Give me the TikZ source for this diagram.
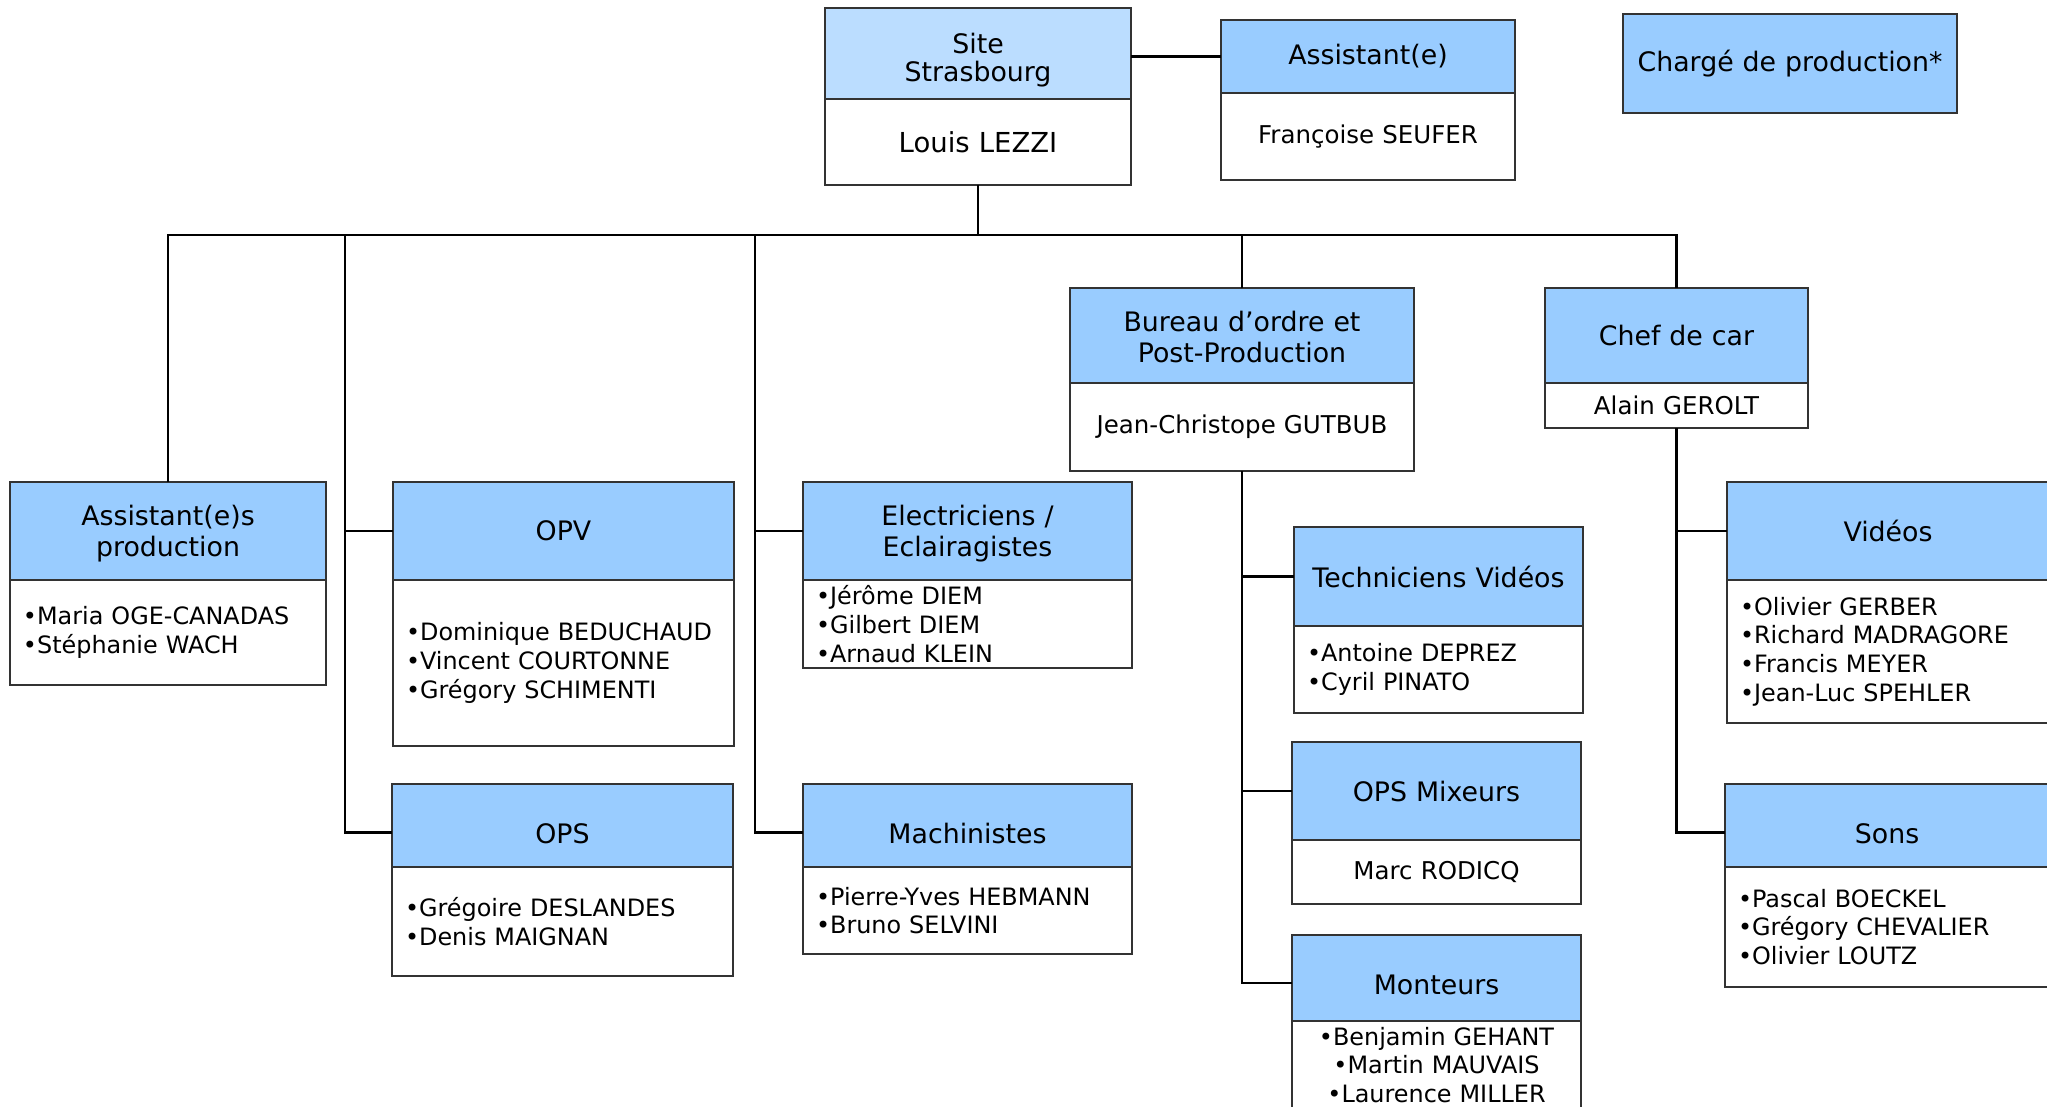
\documentclass[tikz,border=0pt]{standalone}
\usepackage{fontspec}
\setmainfont{DejaVu Sans}
\usepackage{xcolor}
\usepackage{tikz}
\usetikzlibrary{positioning}

\definecolor{headblue}{HTML}{99CCFF}
\definecolor{siteblue}{HTML}{BBDDFF}
\definecolor{boxline}{HTML}{333333}
\newcommand{\headsize}{\fontsize{26.8}{31}\selectfont}
\newcommand{\namesize}{\fontsize{24.5}{28.7}\selectfont}
\newcommand{\listsize}{\fontsize{23.9}{28.7}\selectfont}

\begin{document}
\begin{tikzpicture}[x=1pt, y=-1pt,
  headbox/.style={draw=boxline, line width=1.6pt, fill=headblue, inner xsep=13pt, inner ysep=0pt, outer sep=0pt, align=center, font=\headsize},
  namebox/.style={draw=boxline, line width=1.6pt, fill=white, inner xsep=13pt, inner ysep=0pt, outer sep=0pt, align=left, font=\listsize},
  onename/.style={align=center, font=\namesize},
  link/.style={draw=black, line width=2.6pt}]

\useasboundingbox (0,0) rectangle (2047,1106);
\clip (0,0) rectangle (2047,1106);

% direction
\node[headbox, fill=siteblue, anchor=north west, text width=280pt, text height=45pt, text depth=46pt, font=\fontsize{26.8}{28}\selectfont] (sitehead) at (825,8) {Site\\Strasbourg};
\node[namebox, onename, text width=280pt, minimum height=86pt, below=0pt of sitehead, font=\fontsize{27.5}{31}\selectfont] (sitebody) {Louis LEZZI};

\node[headbox, anchor=north west, text width=268pt, minimum height=73pt] (asthead) at (1221,20) {Assistant(e)};
\node[namebox, onename, text width=268pt, minimum height=87pt, below=0pt of asthead] (astbody) {Françoise SEUFER};

\node[headbox, anchor=north west, text width=308pt, minimum height=99pt] (charge) at (1623,14) {Chargé de production*};

\node[headbox, anchor=north west, text width=318pt, text height=43pt, text depth=52pt] (bureauhead) at (1070,288) {Bureau d’ordre et\\Post-Production};
\node[namebox, onename, text width=318pt, minimum height=88pt, below=0pt of bureauhead] (bureaubody) {Jean-Christope GUTBUB};

\node[headbox, anchor=north west, text width=237pt, minimum height=95pt] (chefhead) at (1545,288) {Chef de car};
\node[namebox, onename, text width=237pt, minimum height=45pt, below=0pt of chefhead] (chefbody) {Alain GEROLT};

% services
\node[headbox, anchor=north west, text width=290pt, text height=43pt, text depth=55pt] (asprodhead) at (10,482) {Assistant(e)s\\production};
\node[namebox, text width=290pt, minimum height=105pt, below=0pt of asprodhead] (asprodbody) {•Maria OGE-CANADAS\\•Stéphanie WACH};

\node[headbox, anchor=north west, text width=315pt, minimum height=98pt] (opvhead) at (393,482) {OPV};
\node[namebox, text width=315pt, minimum height=166pt, below=0pt of opvhead] (opvbody) {•Dominique BEDUCHAUD\\•Vincent COURTONNE\\•Grégory SCHIMENTI};

\node[headbox, anchor=north west, text width=315pt, text height=59pt, text depth=24pt] (opshead) at (392,784) {OPS};
\node[namebox, text width=315pt, minimum height=109pt, below=0pt of opshead] (opsbody) {•Grégoire DESLANDES\\•Denis MAIGNAN};

\node[headbox, anchor=north west, text width=303pt, text height=43pt, text depth=55pt] (elechead) at (803,482) {Electriciens /\\Eclairagistes};
\node[namebox, text width=303pt, minimum height=88pt, below=0pt of elechead] (elecbody) {•Jérôme DIEM\\•Gilbert DIEM\\•Arnaud KLEIN};

\node[headbox, anchor=north west, text width=303pt, text height=59pt, text depth=24pt] (machhead) at (803,784) {Machinistes};
\node[namebox, text width=303pt, minimum height=87pt, below=0pt of machhead] (machbody) {•Pierre-Yves HEBMANN\\•Bruno SELVINI};

\node[headbox, anchor=north west, text width=263pt, minimum height=99pt] (techhead) at (1294,527) {Techniciens Vidéos};
\node[namebox, text width=263pt, minimum height=87pt, below=0pt of techhead] (techbody) {•Antoine DEPREZ\\•Cyril PINATO};

\node[headbox, anchor=north west, text width=263pt, minimum height=98pt] (mixhead) at (1292,742) {OPS Mixeurs};
\node[namebox, onename, text width=263pt, minimum height=64pt, below=0pt of mixhead] (mixbody) {Marc RODICQ};

\node[headbox, anchor=north west, text width=263pt, text height=59pt, text depth=27pt] (monthead) at (1292,935) {Monteurs};
\node[namebox, align=center, text width=263pt, minimum height=88pt, below=0pt of monthead] (montbody) {•Benjamin GEHANT\\•Martin MAUVAIS\\•Laurence MILLER};

\node[headbox, anchor=north west, text width=296pt, minimum height=98pt] (vidhead) at (1727,482) {Vidéos};
\node[namebox, text width=296pt, minimum height=143pt, below=0pt of vidhead] (vidbody) {•Olivier GERBER\\•Richard MADRAGORE\\•Francis MEYER\\•Jean-Luc SPEHLER};

\node[headbox, anchor=north west, text width=298pt, text height=59pt, text depth=24pt] (sonshead) at (1725,784) {Sons};
\node[namebox, text width=298pt, minimum height=120pt, below=0pt of sonshead] (sonsbody) {•Pascal BOECKEL\\•Grégory CHEVALIER\\•Olivier LOUTZ};

% liaisons
\draw[link] (sitehead.east |- asthead.west) -- (asthead.west);
\draw[link] (sitebody.south) -- ++(0,50) coordinate (bus);
\draw[link] (asprodhead.north) |- (bus) -| (chefhead.north);
\draw[link] (bureauhead.north) -- (bureauhead.north |- bus);

\coordinate (trunka) at (345,235);
\coordinate (trunkb) at (755,235);
\draw[link] (trunka) |- (opvhead.west);
\draw[link] (trunka) |- ([yshift=-7pt]opshead.west);
\draw[link] (trunkb) |- (elechead.west);
\draw[link] (trunkb) |- ([yshift=-7pt]machhead.west);

\draw[link] (bureaubody.south) |- (techhead.west);
\draw[link] (bureaubody.south) |- (mixhead.west);
\draw[link] (bureaubody.south) |- ([yshift=-5pt]monthead.west);

\draw[link] (chefbody.south) |- (vidhead.west);
\draw[link] (chefbody.south) |- ([yshift=-7pt]sonshead.west);

\end{tikzpicture}
\end{document}
